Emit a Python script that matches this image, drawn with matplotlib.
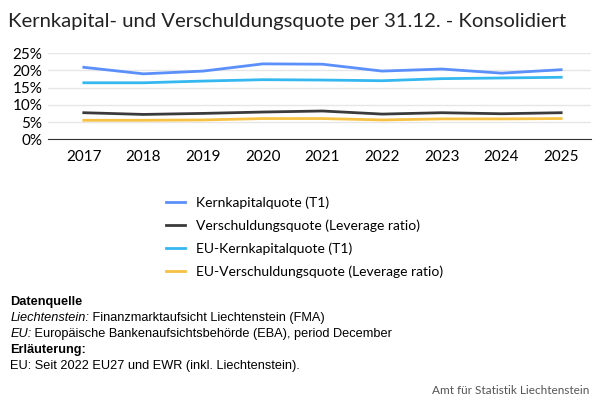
import matplotlib.pyplot as plt
from matplotlib.lines import Line2D

years = [2017, 2018, 2019, 2020, 2021, 2022, 2023, 2024, 2025]
kernkapital = [20.9, 19.0, 19.8, 21.9, 21.8, 19.8, 20.4, 19.2, 20.2]
verschuldung = [7.7, 7.2, 7.5, 7.9, 8.2, 7.3, 7.7, 7.4, 7.7]
eu_kernkapital = [16.4, 16.4, 16.9, 17.3, 17.2, 17.0, 17.6, 17.8, 18.0]
eu_verschuldung = [5.5, 5.5, 5.6, 6.0, 6.0, 5.6, 5.9, 5.9, 6.0]

labels = ["Kernkapitalquote (T1)", "Verschuldungsquote (Leverage ratio)",
          "EU-Kernkapitalquote (T1)", "EU-Verschuldungsquote (Leverage ratio)"]
colors = ["#5b8ff9", "#3b3b3b", "#35b8f0", "#f7c244"]
series = [kernkapital, verschuldung, eu_kernkapital, eu_verschuldung]

plt.rcParams['font.family'] = ['Lato', 'DejaVu Sans']
fig = plt.figure(figsize=(6, 4), dpi=100)
ax = fig.add_axes([0.08, 0.652, 0.905, 0.215])

for s, c in zip(series, colors):
    ax.plot(range(len(years)), s, color=c, lw=2)

ax.set_ylim(0, 25)
ax.set_yticks([0, 5, 10, 15, 20, 25])
ax.set_yticklabels([f"{v}%" for v in [0, 5, 10, 15, 20, 25]], fontsize=11)
ax.set_xlim(-0.6, len(years) - 0.5)
ax.set_xticks(range(len(years)))
ax.set_xticklabels(years, fontsize=11)
ax.grid(axis='y', color='#e6e6e6', lw=1)
ax.set_axisbelow(True)
for sp in ['top', 'right', 'left']:
    ax.spines[sp].set_visible(False)
ax.spines['bottom'].set_color('#333333')
ax.tick_params(length=0, pad=8)
ax.tick_params(axis='y', pad=4)

fig.text(0.013, 0.945, "Kernkapital- und Verschuldungsquote per 31.12. - Konsolidiert",
         fontsize=14.6, color='#222222', va='center')

handles = [Line2D([], [], color=c, lw=2) for c in colors]
fig.legend(handles, labels, loc='upper left', bbox_to_anchor=(0.255, 0.54),
           frameon=False, fontsize=10, handlelength=1.4, labelspacing=0.75)

sans = ['Liberation Sans', 'DejaVu Sans']
y0 = 0.245
lines = [("Datenquelle", 'bold', 'normal', ""),
         ("Liechtenstein:", 'normal', 'italic', " Finanzmarktaufsicht Liechtenstein (FMA)"),
         ("EU:", 'normal', 'italic', " Europäische Bankenaufsichtsbehörde (EBA), period December"),
         ("Erläuterung:", 'bold', 'normal', ""),
         ("EU: Seit 2022 EU27 und EWR (inkl. Liechtenstein).", 'normal', 'normal', "")]
for i, (a, w, st, b) in enumerate(lines):
    y = y0 - i * 0.04
    t = fig.text(0.017, y, a, fontsize=9.2, weight=w, style=st, family=sans, va='center')
    if b:
        fig.canvas.draw()
        bb = t.get_window_extent()
        fig.text(bb.x1 / fig.bbox.width, y, b, fontsize=9.2, family=sans, va='center')

fig.text(0.983, 0.025, "Amt für Statistik Liechtenstein", fontsize=8.5, color='#555555',
         ha='right', va='center')

fig.savefig("out.png")
